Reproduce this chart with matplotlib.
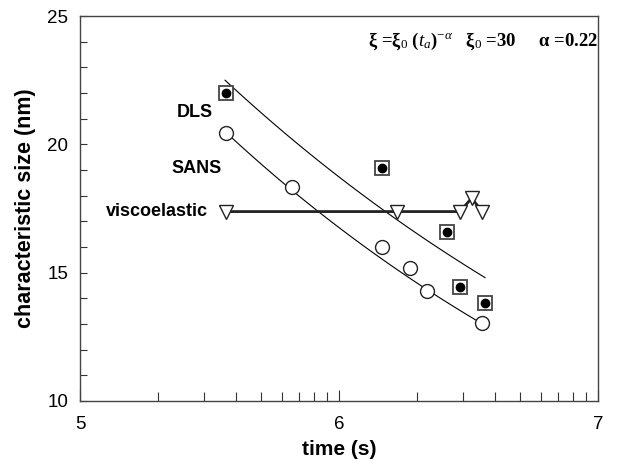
import matplotlib
matplotlib.use('Agg')
import matplotlib.pyplot as plt
import numpy as np

# log10(time) values, sizes in nm
dls_logt = [5.563, 6.165, 6.416, 6.467, 6.564]
dls_size = [22.0, 19.07, 16.6, 14.45, 13.81]

sans_logt = [5.563, 5.817, 6.165, 6.274, 6.339, 6.551]
sans_size = [20.43, 18.33, 16.01, 15.2, 14.29, 13.03]

visc_logt = [5.563, 6.223, 6.467, 6.512, 6.554]
visc_size = [17.38, 17.38, 17.38, 17.9, 17.38]

# power-law fits  xi = xi_start * (t / t_start)^(-alpha)
dls_fit = dict(start=5.56, end=6.564, xi_start=22.5, alpha=0.181)
sans_fit = dict(start=5.56, end=6.551, xi_start=20.5, alpha=0.199)

plt.rcParams['font.family'] = ['Liberation Sans', 'DejaVu Sans']
plt.rcParams['mathtext.fontset'] = 'custom'
plt.rcParams['mathtext.rm'] = 'Liberation Serif'
plt.rcParams['mathtext.it'] = 'Liberation Serif:italic'
plt.rcParams['mathtext.bf'] = 'Liberation Serif:bold'

fig = plt.figure(figsize=(6.27, 4.68), dpi=100)
ax = fig.add_axes([0.1276, 0.1432, 0.8261, 0.8226])


def fit_curve(p):
    lt = np.linspace(p['start'], p['end'], 100)
    return 10 ** lt, p['xi_start'] * 10 ** (-p['alpha'] * (lt - p['start']))


for p in (dls_fit, sans_fit):
    t, xi = fit_curve(p)
    ax.plot(t, xi, color='black', lw=0.8)

# viscoelastic
ax.plot(10 ** np.array(visc_logt), visc_size, color='#222222', lw=2.0, zorder=2)
ax.plot(10 ** np.array(visc_logt), visc_size, linestyle='none', marker='v',
        ms=10, mfc='white', mec='#222222', mew=1.0, zorder=3)

# SANS
ax.plot(10 ** np.array(sans_logt), sans_size, linestyle='none', marker='o',
        ms=10, mfc='white', mec='#222222', mew=1.0, zorder=3)

# DLS: square with filled dot
ax.plot(10 ** np.array(dls_logt), dls_size, linestyle='none', marker='s',
        ms=9.5, mfc='white', mec='#444444', mew=1.3, zorder=3)
ax.plot(10 ** np.array(dls_logt), dls_size, linestyle='none', marker='o',
        ms=6, mfc='black', mec='black', zorder=4)

ax.text(10 ** 5.444, 21.23, 'DLS', fontsize=13, fontweight='bold', ha='center', va='center')
ax.text(10 ** 5.45, 19.07, 'SANS', fontsize=13, fontweight='bold', ha='center', va='center')
ax.text(10 ** 5.495, 17.38, 'viscoelastic', fontsize=13, fontweight='bold', ha='right', va='center')

ax.text(0.556, 0.934, r'ξ =ξ$_{0}$ ($t_a$)$^{-α}$   ξ$_0$ =30     α =0.22',
        transform=ax.transAxes, fontsize=13.5, fontweight='bold',
        family=['Liberation Serif', 'DejaVu Serif'], ha='left', va='center')

ax.set_xscale('log')
ax.set_xlim(1e5, 1e7)
ax.set_ylim(10, 25)
ax.set_xticks([1e5, 1e6, 1e7])
ax.set_xticklabels(['5', '6', '7'])
ax.set_xticks([k * 10 ** e for e in (5, 6) for k in range(2, 10)], minor=True)
ax.set_yticks([10, 15, 20, 25])
ax.set_yticks(np.arange(10, 25, 1), minor=True)

ax.tick_params(which='both', direction='in', top=False, right=False,
               labelsize=13.5, color='#333333', width=0.8)
ax.tick_params(axis='x', which='major', length=8, pad=11)
ax.tick_params(axis='x', which='minor', length=6.7)
ax.tick_params(axis='y', which='both', length=5, pad=8.5)
for s in ax.spines.values():
    s.set_color('#444444')
    s.set_linewidth(1.0)

ax.set_xlabel('time (s)', fontsize=15, fontweight='bold', labelpad=5)
ax.set_ylabel('characteristic size (nm)', fontsize=15.5, fontweight='bold', labelpad=8)

fig.savefig('out.png', dpi=100)
